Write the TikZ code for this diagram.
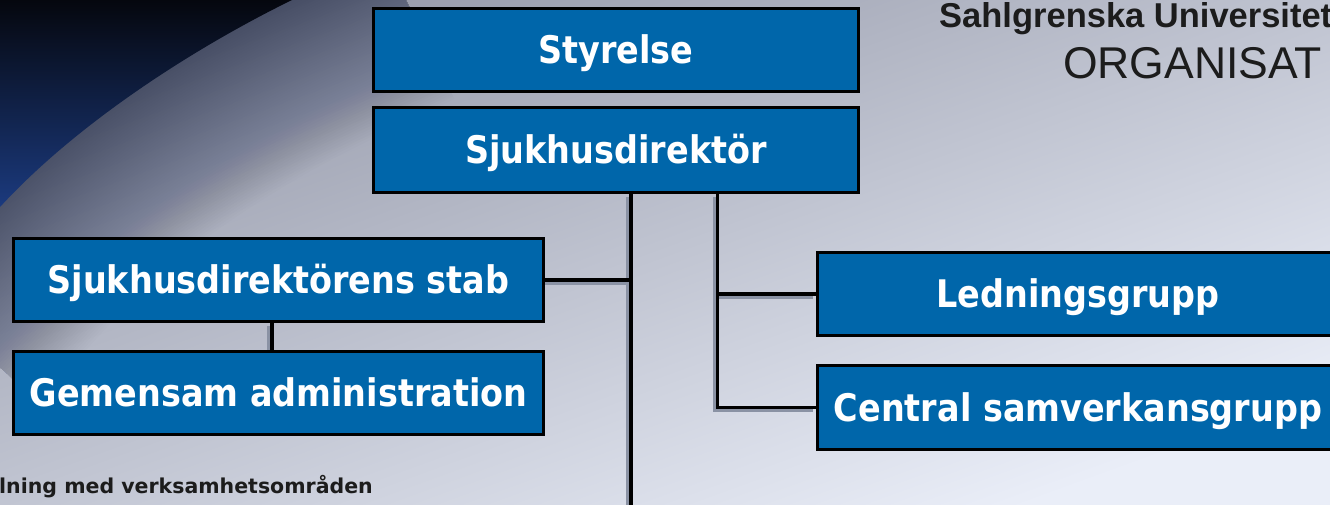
\documentclass[tikz,border=0pt]{standalone}
\usepackage{fontspec}
\setmainfont{DejaVu Sans}
\newfontfamily\boxfont{DejaVu Sans}[FakeStretch=0.88]
\newfontfamily\arialfont{Liberation Sans}
\definecolor{boxblue}{HTML}{0066AA}
\definecolor{lineshadow}{HTML}{8A92A4}
\definecolor{bgtop}{HTML}{969AAA}
\definecolor{bgmid}{HTML}{CDD5EC}
\definecolor{bgbot}{HTML}{EAEEF8}
\definecolor{rimcol}{HTML}{3A4462}
\definecolor{darktop}{HTML}{05070E}
\definecolor{darkbot}{HTML}{1B3A7E}
\definecolor{titlegray}{HTML}{1C1C1C}
\pgfdeclarelayer{bglayer}
\pgfdeclarelayer{linelayer}
\pgfsetlayers{bglayer,linelayer,main}
\tikzset{
  orgbox/.style={draw=black, line width=3pt, fill=boxblue, text=white,
    font=\boxfont\bfseries\fontsize{38}{40}\selectfont,
    inner sep=0pt, text height=27.7pt, text depth=0pt},
  conn/.style={draw=black, line width=3.5pt},
  connshadow/.style={draw=lineshadow, line width=3.5pt, transform canvas={shift={(-3,3)}}},
  rimstroke/.style={draw=rimcol, opacity=0.015},
  titletext/.style={inner sep=0pt, text=titlegray}
}
\begin{document}
\begin{tikzpicture}[x=1pt,y=-1pt]
\useasboundingbox (0,0) rectangle (1330,504);
\begin{pgfonlayer}{bglayer}
  \shade[top color=bgtop, middle color=bgmid, bottom color=bgbot, shading angle=20] (0,0) rectangle (1330,504);
  \foreach \w in {5,10,...,320}
    \draw[rimstroke, line width=\w pt] (384,-45) -- (292,0) .. controls (200,45) and (80,120) .. (0,207) -- (-80,294);
  \shade[top color=darktop, bottom color=darkbot] (0,0) -- (292,0) .. controls (200,45) and (80,120) .. (0,207) -- cycle;
\end{pgfonlayer}

\begin{scope}
\clip (0,0) rectangle (1330,504);
\node[orgbox, minimum width=485pt, minimum height=83pt] (sty) at (616,50) {Styrelse};
\node[orgbox, minimum width=485pt, minimum height=85pt] (sd) at (616,150) {Sjukhusdirektör};
\node[orgbox, minimum width=530pt, minimum height=83pt] (stab) at (278.5,280) {Sjukhusdirektörens stab};
\node[orgbox, minimum width=530pt, minimum height=83pt] (gem) at (278.5,393) {Gemensam administration};
\node[orgbox, minimum width=521pt, minimum height=83pt] (led) at (1078,294) {Ledningsgrupp};
\node[orgbox, minimum width=521pt, minimum height=84pt] (cent) at (1078,407.5) {Central samverkansgrupp};

\node[titletext, anchor=base west, font=\arialfont\bfseries\fontsize{34.5}{37}\selectfont] (uni) at (939,27) {Sahlgrenska Universitet};
\node[titletext, anchor=base west, font=\arialfont\fontsize{44.5}{48}\selectfont] (org) at (1063,78) {ORGANISAT};
\node[titletext, anchor=base west, font=\bfseries\fontsize{20.5}{24}\selectfont] (note) at (-1,493) {lning med verksamhetsområden};
\end{scope}

\coordinate (bot) at (631,512);
\coordinate (v2) at (717.5,300);
\coordinate (v3) at (272,330);

\begin{pgfonlayer}{linelayer}
  \foreach \s in {connshadow,conn} {
    \draw[\s] (sd.south -| bot) -- (bot);
    \draw[\s] (stab.east) -- (stab.east -| bot);
    \draw[\s] (sd.south -| v2) |- (cent.west);
    \draw[\s] (led.west -| v2) -- (led.west);
    \draw[\s] (stab.south -| v3) -- (gem.north -| v3);
  }
\end{pgfonlayer}
\end{tikzpicture}
\end{document}
